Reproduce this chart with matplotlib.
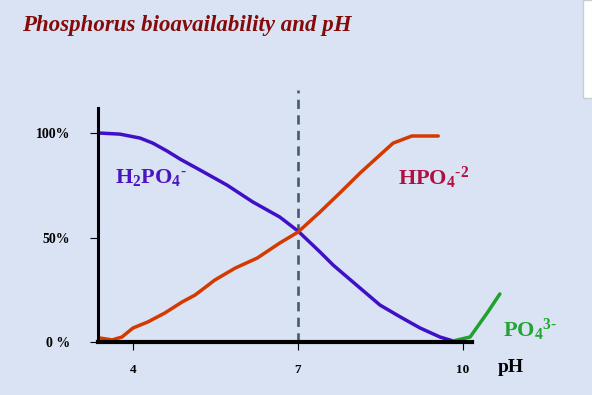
import matplotlib
matplotlib.use("Agg")
import matplotlib.pyplot as plt
from matplotlib.patches import Rectangle

# --- data (pH, % of total phosphate) ---
ph_h2po4 = [3.40, 3.76, 4.13, 4.36, 4.62, 4.86, 5.22, 5.71, 6.18, 6.67, 7.00,
            7.40, 7.64, 8.00, 8.49, 8.86, 9.22, 9.58, 9.82]
pct_h2po4 = [100.0, 99.5, 97.6, 95.2, 91.4, 87.5, 82.3, 75.1, 67.0, 59.8, 53.1,
             43.1, 36.8, 28.7, 17.7, 12.0, 6.7, 2.4, 0.5]

ph_hpo4 = [3.40, 3.62, 3.80, 4.00, 4.27, 4.58, 4.89, 5.13, 5.49, 5.86, 6.26,
           6.67, 7.00, 7.40, 7.76, 8.13, 8.49, 8.73, 9.07, 9.55]
pct_hpo4 = [1.9, 1.0, 2.4, 6.7, 9.6, 13.9, 19.1, 22.5, 29.7, 35.4, 40.2,
            47.4, 52.6, 62.2, 71.3, 80.9, 89.5, 95.2, 98.6, 98.6]

ph_po4 = [9.82, 10.13, 10.31, 10.44, 10.67]
pct_po4 = [0.5, 2.4, 9.1, 13.9, 23.0]

x_ticks = [4, 7, 10]
x_ticklabels = ["4", "7", "10"]
y_ticks = [0, 50, 100]
y_ticklabels = ["0 %", "50%", "100%"]

BG = "#d9e3f3"
BLUE = "#4010c8"
RED = "#d43a00"
GREEN = "#22a030"

plt.rcParams["font.family"] = ["Liberation Serif", "DejaVu Serif"]
plt.rcParams["mathtext.fontset"] = "custom"
plt.rcParams["mathtext.rm"] = "Liberation Serif"
plt.rcParams["mathtext.bf"] = "Liberation Serif:bold"
plt.rcParams["mathtext.it"] = "Liberation Serif:italic"

W, H = 592, 395
fig = plt.figure(figsize=(W / 100, H / 100), dpi=100, facecolor=BG)
ax = fig.add_axes([98 / W, (H - 342) / H, (545.5 - 98) / W, 234 / H])
ax.set_facecolor("none")
ax.set_xlim(3.364, 11.5)
ax.set_ylim(0, 112)

ax.plot(ph_h2po4, pct_h2po4, color=BLUE, lw=2.5, solid_capstyle="round",
        solid_joinstyle="round", clip_on=False, zorder=3)
ax.plot(ph_hpo4, pct_hpo4, color=RED, lw=2.5, solid_capstyle="round",
        solid_joinstyle="round", clip_on=False, zorder=3)
ax.plot(ph_po4, pct_po4, color=GREEN, lw=2.5, solid_capstyle="round",
        solid_joinstyle="round", clip_on=False, zorder=3)

# pH 7 reference line
ax.axvline(7, ymin=0, ymax=120.6 / 112, color="#4a5870", lw=1.9,
           dashes=(3.5, 2.4), clip_on=False, zorder=2)

for s in ["top", "right"]:
    ax.spines[s].set_visible(False)
ax.spines["left"].set_linewidth(2.2)
ax.spines["bottom"].set_linewidth(3.0)
ax.spines["bottom"].set_bounds(3.364, 10.164)
ax.spines["left"].set_zorder(4)
ax.spines["bottom"].set_zorder(4)

ax.set_xticks(x_ticks)
ax.set_xticklabels(x_ticklabels, fontsize=9.5, fontweight="bold")
ax.set_yticks(y_ticks)
ax.set_yticklabels(y_ticklabels, fontsize=10, fontweight="bold")
ax.tick_params(axis="x", length=6, width=0.8, pad=10)
ax.tick_params(axis="y", length=6, width=0.8, pad=14)

ax.text(3.673, 76.1, "$\\mathbf{H_2PO_4{}^\u2010}$", color="#4a14c0", fontsize=16, va="baseline")
ax.text(8.818, 75.1, "$\\mathbf{HPO_4{}^{\u20102}}$", color="#b01040", fontsize=16, va="baseline")
ax.text(10.727, 2.4, "$\\mathbf{PO_4{}^{3\u2010}}$", color="#22a532", fontsize=16, va="baseline",
        clip_on=False)

fig.text(498 / W, 1 - 372 / H, "pH", fontsize=14, fontweight="bold", va="baseline")
fig.text(22 / W, 1 - 31 / H, "Phosphorus bioavailability and pH", fontsize=16.5,
         fontweight="bold", fontstyle="italic", color="#850a0a", va="baseline")

# white panel edge at the top right of the screenshot
fig.patches.append(Rectangle((583 / W, 1 - 98 / H), 20 / W, 98 / H, transform=fig.transFigure,
                             facecolor="white", edgecolor="#c8ccd4", lw=1.0))

fig.savefig("out.png", dpi=100, facecolor=BG)
